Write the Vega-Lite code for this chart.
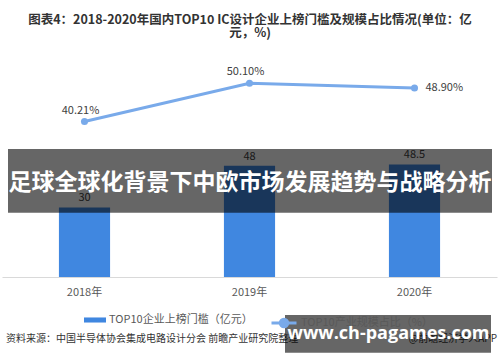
{
  "$schema": "https://vega.github.io/schema/vega-lite/v6.json",
  "width": 500,
  "height": 232,
  "autosize": {"type": "none"},
  "padding": {"top": 45, "left": 0, "right": 0, "bottom": 85},
  "background": "white",
  "config": {"font": "Noto Sans CJK SC", "view": {"stroke": null}},
  "title": {
    "text": ["图表4：2018-2020年国内TOP10 IC设计企业上榜门槛及规模占比情况(单位：亿", "元，%)"],
    "fontSize": 12.5,
    "fontWeight": "bold",
    "color": "#333333",
    "anchor": "middle",
    "frame": "group",
    "offset": 6,
    "lineHeight": 13
  },
  "data": {
    "values": [
      {"year": "2018年", "threshold": 30, "share": 0.4021},
      {"year": "2019年", "threshold": 48, "share": 0.501},
      {"year": "2020年", "threshold": 48.5, "share": 0.489}
    ]
  },
  "resolve": {"scale": {"x": "independent", "y": "independent"}},
  "layer": [
    {
      "layer": [
        {
          "mark": {"type": "bar"},
          "encoding": {
            "x": {
              "field": "year", "type": "nominal", "sort": null,
              "scale": {"range": [2, 497], "paddingInner": 0.69, "paddingOuter": 0.345},
              "axis": {"title": null, "ticks": false, "grid": false, "labelAngle": 0, "labelFontSize": 11, "labelColor": "#595959", "labelPadding": 9, "domainColor": "#d9d9d9", "domainWidth": 1}
            },
            "y": {"field": "threshold", "type": "quantitative", "scale": {"domain": [0, 100]}, "axis": null},
            "color": {
              "datum": "TOP10企业上榜门槛（亿元）",
              "scale": {"range": ["#4087e0"]},
              "legend": {"title": null, "orient": "none", "legendX": 84, "legendY": 264, "padding": 0, "symbolType": "M-1,-0.23H1V0.23H-1Z", "symbolSize": 484, "symbolStrokeWidth": 0, "labelFontSize": 11, "labelColor": "#595959", "labelOffset": 3}
            }
          }
        },
        {
          "mark": {"type": "text", "baseline": "bottom", "dy": -4, "fontSize": 11, "color": "#404040"},
          "encoding": {
            "x": {"field": "year", "type": "nominal", "sort": null},
            "y": {"field": "threshold", "type": "quantitative"},
            "text": {"field": "threshold", "type": "quantitative"}
          }
        }
      ]
    },
    {
      "layer": [
        {
          "mark": {"type": "line", "strokeWidth": 3, "interpolate": "linear"},
          "encoding": {
            "x": {"field": "year", "type": "nominal", "sort": null, "scale": {"range": [2, 497], "paddingInner": 0.69, "paddingOuter": 0.345}, "axis": null},
            "y": {"field": "share", "type": "quantitative", "scale": {"domain": [0.01, 0.59]}, "axis": null},
            "stroke": {
              "datum": "TOP10产业规模占比（%）",
              "scale": {"range": ["#79aaea"]},
              "legend": {"title": null, "orient": "none", "legendX": 270, "legendY": 264, "padding": 0, "symbolType": "M-1,0H1M-0.3,0A0.3,0.3,0,1,1,0.3,0A0.3,0.3,0,1,1,-0.3,0Z", "symbolSize": 625, "symbolStrokeWidth": 3, "symbolFillColor": "#79aaea", "labelFontSize": 11, "labelColor": "#595959", "labelOffset": 3,
                "encode": {"symbols": {"update": {"fill": {"value": "#79aaea"}}}}}
            }
          }
        },
        {
          "mark": {"type": "point", "filled": true, "size": 50, "color": "#79aaea", "opacity": 1},
          "encoding": {
            "x": {"field": "year", "type": "nominal", "sort": null},
            "y": {"field": "share", "type": "quantitative"}
          }
        },
        {
          "transform": [{"filter": "datum.year !== '2020年'"}],
          "mark": {"type": "text", "baseline": "middle", "dy": -11, "dx": -4, "fontSize": 11, "color": "#404040"},
          "encoding": {
            "x": {"field": "year", "type": "nominal", "sort": null},
            "y": {"field": "share", "type": "quantitative"},
            "text": {"field": "share", "type": "quantitative", "format": ".2%"}
          }
        },
        {
          "transform": [{"filter": "datum.year === '2020年'"}],
          "mark": {"type": "text", "baseline": "middle", "align": "left", "dx": 11, "fontSize": 11, "color": "#404040"},
          "encoding": {
            "x": {"field": "year", "type": "nominal", "sort": null},
            "y": {"field": "share", "type": "quantitative"},
            "text": {"field": "share", "type": "quantitative", "format": ".2%"}
          }
        }
      ]
    },
    {
      "layer": [
        {
          "data": {"values": [{"text": "资料来源：中国半导体协会集成电路设计分会 前瞻产业研究院整理"}]},
          "mark": {"type": "text", "align": "left", "baseline": "middle", "fontSize": 10, "color": "#333333"},
          "encoding": {
            "x": {"datum": 0.012, "type": "quantitative", "scale": {"domain": [0, 1]}, "axis": null},
            "y": {"datum": -26.7, "type": "quantitative", "scale": {"domain": [0, 100]}, "axis": null},
            "text": {"field": "text"}
          }
        },
        {
          "data": {"values": [{"text": "@前瞻经济学人APP"}]},
          "mark": {"type": "text", "align": "right", "baseline": "middle", "fontSize": 10, "color": "#333333"},
          "encoding": {
            "x": {"datum": 0.994, "type": "quantitative"},
            "y": {"datum": -26.7, "type": "quantitative"},
            "text": {"field": "text"}
          }
        },
        {
          "data": {"values": [{"text": "banner"}]},
          "mark": {"type": "rect", "color": "#000000", "opacity": 0.6},
          "encoding": {
            "x": {"datum": 0.016, "type": "quantitative"},
            "x2": {"datum": 0.984},
            "y": {"datum": 55.2, "type": "quantitative"},
            "y2": {"datum": 27.7}
          }
        },
        {
          "data": {"values": [{"text": "足球全球化背景下中欧市场发展趋势与战略分析"}]},
          "mark": {"type": "text", "align": "center", "baseline": "middle", "fontSize": 23, "fontWeight": "bold", "color": "#ffffff"},
          "encoding": {
            "x": {"datum": 0.5, "type": "quantitative"},
            "y": {"datum": 40.5, "type": "quantitative"},
            "text": {"field": "text"}
          }
        },
        {
          "data": {"values": [{"text": "watermark"}]},
          "mark": {"type": "rect", "color": "#000000", "opacity": 0.6},
          "encoding": {
            "x": {"datum": 0.57, "type": "quantitative"},
            "x2": {"datum": 0.982},
            "y": {"datum": -16.4, "type": "quantitative"},
            "y2": {"datum": -32.6}
          }
        },
        {
          "data": {"values": [{"text": "www.ch-pagames.com"}]},
          "mark": {"type": "text", "align": "center", "baseline": "middle", "fontSize": 18, "fontWeight": "bold", "color": "#ffffff", "font": "Open Sans"},
          "encoding": {
            "x": {"datum": 0.777, "type": "quantitative"},
            "y": {"datum": -24.6, "type": "quantitative"},
            "text": {"field": "text"}
          }
        }
      ]
    }
  ]
}
